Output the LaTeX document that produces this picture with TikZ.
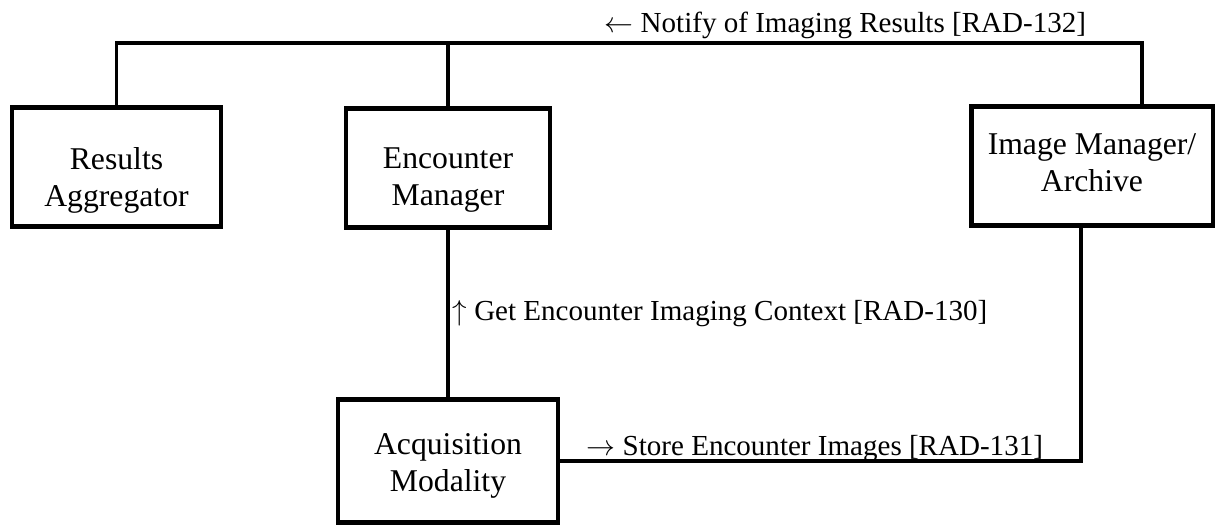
\documentclass[tikz,border=0pt]{standalone}
\usepackage{fontspec}
\setmainfont{Liberation Serif}
\usepackage{tikz}

\begin{document}
\begin{tikzpicture}[x=0.3787pt,y=-0.3787pt,
  box/.style={draw, line width=1.8pt, inner sep=0pt},
  boxtxt/.style={align=center, font=\fontsize{12}{14}\selectfont},
  lbl/.style={anchor=base west, inner sep=0pt, font=\fontsize{11}{13}\selectfont},
  conn/.style={line width=1.2pt}]

\useasboundingbox (0,0) rectangle (1215,525);

% actors
\node[box, minimum width=79.1pt, minimum height=45.1pt] (ra) at (116.5,167) {};
\node[box, minimum width=77.3pt, minimum height=45.1pt] (em) at (448,168) {};
\node[box, minimum width=91.6pt, minimum height=45.1pt] (im) at (1092.5,166) {};
\node[box, minimum width=83.3pt, minimum height=46.4pt] (am) at (448,461) {};

\node[boxtxt] (ratxt) at (116.5,180) {Results\\Aggregator};
\node[boxtxt] (emtxt) at (448,180) {Encounter\\Manager};
\node[boxtxt] (imtxt) at (1092,162.5) {Image Manager/\\Archive};
\node[boxtxt] (amtxt) at (448,466) {Acquisition\\Modality};

% corners of the connectors
\coordinate (tl) at (116.5,43);
\coordinate (tr) at (1142,43);
\coordinate (br) at (1081,461);

% RAD-132
\draw[conn] (ra.north) -- (tl) -- (tr) -- (tr |- im.north);
\draw[conn] (em.north) -- (em.north |- tl);
\node[lbl] (rad132) at (604,33) {$\leftarrow$ Notify of Imaging Results [RAD-132]};

% RAD-130
\draw[conn] (em.south) -- (am.north);
\node[lbl] (rad130) at (452,320) {$\uparrow$ Get Encounter Imaging Context [RAD-130]};

% RAD-131
\draw[conn] (am.east) -- (br) -- (br |- im.south);
\node[lbl] (rad131) at (586,455) {$\rightarrow$ Store Encounter Images [RAD-131]};

\end{tikzpicture}
\end{document}
